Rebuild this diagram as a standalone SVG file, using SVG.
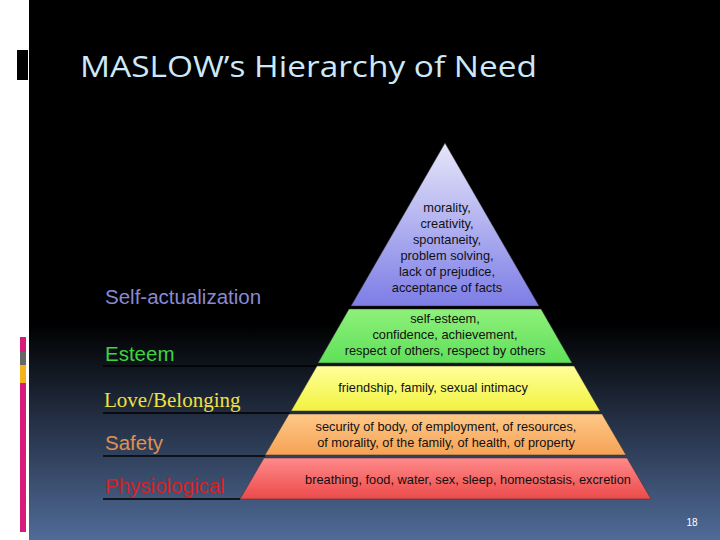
<svg xmlns="http://www.w3.org/2000/svg" width="720" height="540" viewBox="0 0 720 540">
<defs>
<linearGradient id="bg" x1="0" y1="0" x2="0" y2="1"><stop offset="0.6" stop-color="#000"/><stop offset="1" stop-color="#506b98"/></linearGradient>
<linearGradient id="gp" x1="0" y1="0" x2="0" y2="1"><stop offset="0" stop-color="#e6e6fa"/><stop offset="1" stop-color="#7d7de6"/></linearGradient>
<linearGradient id="gg" x1="0" y1="0" x2="0" y2="1"><stop offset="0" stop-color="#8ef07a"/><stop offset="1" stop-color="#5fe05a"/></linearGradient>
<linearGradient id="gy" x1="0" y1="0" x2="0" y2="1"><stop offset="0" stop-color="#ffff9a"/><stop offset="1" stop-color="#f2f240"/></linearGradient>
<linearGradient id="go" x1="0" y1="0" x2="0" y2="1"><stop offset="0" stop-color="#ffc888"/><stop offset="1" stop-color="#f5a355"/></linearGradient>
<linearGradient id="gr" x1="0" y1="0" x2="0" y2="1"><stop offset="0" stop-color="#ff8a8a"/><stop offset="1" stop-color="#ec4a4a"/></linearGradient>
</defs>
<style>
.t{font-family:"Liberation Sans",Arial,sans-serif;font-size:12.8px;fill:#111;text-anchor:middle}
.l{font-family:"Liberation Sans",Arial,sans-serif;font-size:20.5px}
.u{stroke:#000;stroke-width:1.5}
.tier{stroke:#333;stroke-width:0.5}
</style>
<rect width="720" height="540" fill="#fff"/>
<rect x="29" y="0" width="691" height="540" fill="url(#bg)"/>
<rect x="17" y="50" width="11" height="30" fill="#000"/>
<rect x="20" y="337" width="6" height="15" fill="#d81b7a"/>
<rect x="20" y="352" width="6" height="13" fill="#666"/>
<rect x="20" y="365" width="6" height="18" fill="#f5b21c"/>
<rect x="20" y="383" width="6" height="149" fill="#d81b7a"/>
<text x="80" y="77" font-family="'Open Sans','Liberation Sans',sans-serif" font-size="30" fill="#cde8f8" textLength="457" lengthAdjust="spacingAndGlyphs">MASLOW’s Hierarchy of Need</text>
<g id="lines">
<line class="u" x1="103" y1="366" x2="317" y2="366"/>
<line class="u" x1="103" y1="413" x2="290" y2="413"/>
<line class="u" x1="103" y1="456" x2="265" y2="456"/>
<line class="u" x1="103" y1="499" x2="240" y2="499"/>
</g>
<g id="self">
<polygon class="tier" points="445,143 539,306 351,306" fill="url(#gp)"/>
<text class="t" x="447" y="212">morality,</text><text class="t" x="447" y="228">creativity,</text><text class="t" x="447" y="244">spontaneity,</text><text class="t" x="447" y="260">problem solving,</text><text class="t" x="447" y="276">lack of prejudice,</text><text class="t" x="447" y="292">acceptance of facts</text>
<text class="l" x="105" y="304" fill="#8a8ad0">Self-actualization</text>
</g>
<g id="esteem">
<polygon class="tier" points="349,309 541,309 572,363 318,363" fill="url(#gg)"/>
<text class="t" x="445" y="323">self-esteem,</text><text class="t" x="445" y="339">confidence, achievement,</text><text class="t" x="445" y="355">respect of others, respect by others</text>
<text class="l" x="105" y="361" fill="#3ed43e">Esteem</text>
</g>
<g id="love">
<polygon class="tier" points="317,366 574,366 600,411 291,411" fill="url(#gy)"/>
<text class="t" x="433" y="392">friendship, family, sexual intimacy</text>
<text x="104" y="407" font-family="'Liberation Serif','Times New Roman',serif" font-size="21" fill="#f0e040">Love/Belonging</text>
</g>
<g id="safety">
<polygon class="tier" points="289,414 602,414 626,455 265,455" fill="url(#go)"/>
<text class="t" x="446" y="431">security of body, of employment, of resources,</text><text class="t" x="446" y="447">of morality, of the family, of health, of property</text>
<text class="l" x="105" y="450" fill="#e09050">Safety</text>
</g>
<g id="phys">
<polygon class="tier" points="264,458 627,458 651,499 240,499" fill="url(#gr)"/>
<text class="t" x="468" y="484">breathing, food, water, sex, sleep, homeostasis, excretion</text>
<text class="l" x="105" y="493" fill="#d82020">Physiological</text>
</g>
<text x="692" y="526" font-family="'Liberation Sans',Arial,sans-serif" font-size="10" fill="#fff" text-anchor="middle">18</text>
</svg>
